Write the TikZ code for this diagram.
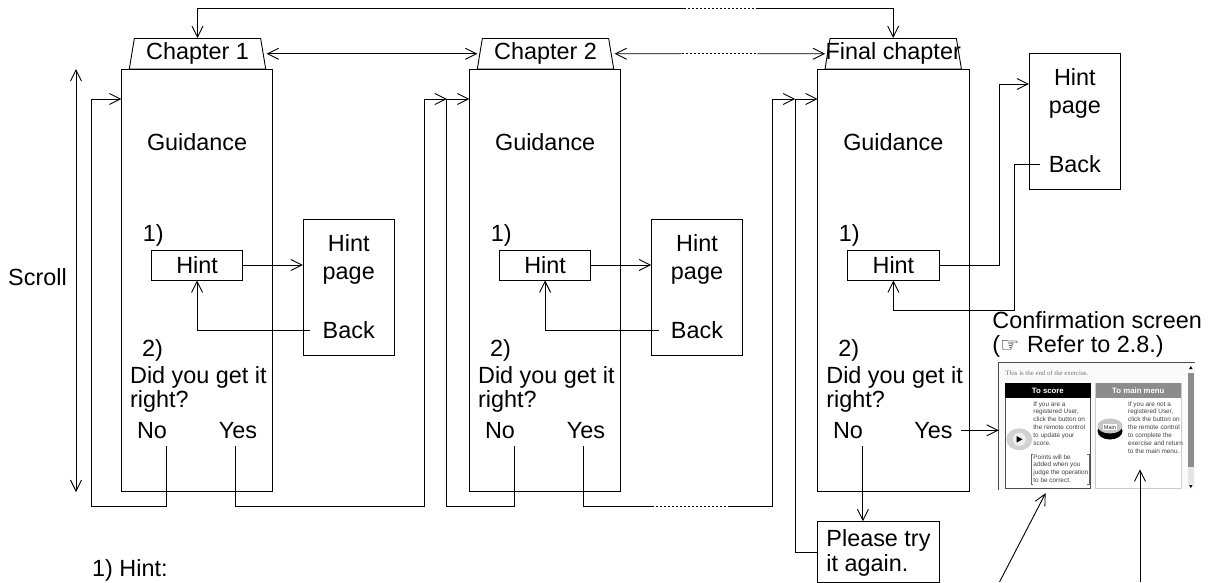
\documentclass[tikz,border=0pt]{standalone}
\usepackage{xcolor}
\usepackage{fontspec}
\setmainfont{Liberation Sans}
\newfontfamily\symfont{DejaVu Sans}
\newfontfamily\serfont{Liberation Serif}
\usepackage{tikz}
\usetikzlibrary{calc}
\usetikzlibrary{arrows.meta}
\usetikzlibrary{shapes.geometric}
\tikzset{>={Straight Barb[length=11pt,width=11pt]}}
\tikzstyle{lbl} = [draw=none, inner sep=0, font=\fontsize{23.4}{23.6}\selectfont]
\tikzstyle{tab} = [trapezium, draw, trapezium stretches body=true, trapezium left angle=77, trapezium right angle=77, minimum width=136.4pt, minimum height=30.5pt, inner sep=0, font=\fontsize{23.4}{23.6}\selectfont]
\tikzstyle{chap} = [rectangle, draw, inner sep=0, minimum width=151.4pt, minimum height=422.5pt]
\tikzstyle{hintbox} = [rectangle, draw, inner sep=0, minimum width=91.4pt, minimum height=30pt, font=\fontsize{23.4}{23.6}\selectfont]
\tikzstyle{hintpage} = [rectangle, draw, inner sep=0, minimum width=90.9pt, minimum height=136pt]
\tikzstyle{dots} = [-, dash pattern=on 2pt off 2pt]
\tikzstyle{small} = [draw=none, inner sep=0, anchor=north west, align=left, text=black!75, font=\fontsize{6.4}{7.85}\selectfont]

\begin{document}
\begin{tikzpicture}[x=1pt, y=-1pt, line width=.9pt]
\useasboundingbox (0,0) rectangle (1217,582);
% chapter columns
\node [tab] (T1) at (197.5, 53.75) {\makebox[0pt]{Chapter 1}};
\node [tab] (T2) at (545.5, 53.75) {\makebox[0pt]{Chapter 2}};
\node [tab] (T3) at (893.2, 53.75) {\makebox[0pt]{\raisebox{-2pt}{Final chapter}}};
\node [chap] (C1) at (197.1, 280.25) {};
\node [chap] (C2) at (545.15, 280.25) {};
\node [chap] (C3) at (893.35, 280.25) {};
\node [lbl] (G1) at (197.1, 142) {Guidance};
\node [lbl] (G2) at (545.15, 142) {Guidance};
\node [lbl] (G3) at (893.35, 142) {Guidance};
\node [lbl, anchor=base west] (A1) at (142.3, 241.7) {1)};
\node [lbl, anchor=base west] (A2) at (490.3, 241.7) {1)};
\node [lbl, anchor=base west] (A3) at (838.5, 241.7) {1)};
\node [hintbox] (H1) at (197.1, 265) {Hint};
\node [hintbox] (H2) at (545.1, 265) {Hint};
\node [hintbox] (H3) at (893.4, 265) {Hint};
\node [lbl, anchor=base west] (B1) at (141.6, 356) {2)};
\node [lbl, anchor=base west] (B2) at (489.6, 356) {2)};
\node [lbl, anchor=base west] (B3) at (837.8, 356) {2)};
\node [lbl, anchor=north west, align=left] (Q1) at (129.7, 366) {Did you get it\\right?};
\node [lbl, anchor=north west, align=left] (Q2) at (477.7, 366) {Did you get it\\right?};
\node [lbl, anchor=north west, align=left] (Q3) at (825.9, 366) {Did you get it\\right?};
\node [lbl] (N1) at (152, 430.3) {No};
\node [lbl] (N2) at (500, 430.3) {No};
\node [lbl] (N3) at (848, 430.3) {No};
\node [lbl] (Y1) at (238, 430.3) {Yes};
\node [lbl] (Y2) at (586, 430.3) {Yes};
\node [lbl, inner xsep=8pt] (Y3) at (933.5, 430.3) {Yes};
% hint pages
\node [hintpage] (P1) at (348.75, 287.85) {};
\node [hintpage] (P2) at (697, 287.85) {};
\node [hintpage] (P3) at (1074.85, 121.5) {};
\node [lbl, align=center, anchor=north] (L1) at (348.75, 234) {Hint\\[4.4pt]page};
\node [lbl, align=center, anchor=north] (L2) at (697, 234) {Hint\\[4.4pt]page};
\node [lbl, align=center, anchor=north] (L3) at (1074.85, 68) {Hint\\[4.4pt]page};
\node [lbl, inner xsep=12pt] (K1) at (348.75, 330.5) {Back};
\node [lbl, inner xsep=12pt] (K2) at (697, 330.5) {Back};
\node [lbl, inner xsep=8pt] (K3) at (1074.85, 164.5) {Back};
% retry box and scroll label
\node [rectangle, draw, inner sep=0, minimum width=121.6pt, minimum height=61pt] (R) at (878.4, 552.2) {};
\node [lbl, anchor=north west, align=left] (RT) at (826, 529) {Please try\\[1pt]it again.};
\node [lbl] (S) at (37.5, 277) {Scroll};
\node [lbl, anchor=base west] (N) at (91.7, 576.5) {1) Hint:};
% confirmation screen
\node [lbl, anchor=north west, align=left] (CS) at (992, 311) {Confirmation screen\\(\smash{\symfont\fontsize{21}{21}\selectfont\char"261E}\hspace{1.5pt} Refer to 2.8.)};
\node [rectangle, fill=black!2, inner sep=0, minimum width=195.5pt, minimum height=126pt] (W) at (1097, 426.3) {};
\draw [black!70] (W.south west) -- (W.north west) -- (W.north east);
\node [draw=none, inner sep=0, anchor=base west, text=black!55, font=\serfont\fontsize{6.8}{8}\selectfont] (W0) at (1005, 375.5) {This is the end of the exercise.};
\node [rectangle, draw=black!70, fill=white, inner sep=0, minimum width=85.7pt, minimum height=105pt] (WA) at (1047.85, 435.8) {};
\node [rectangle, draw=black!20, fill=white, inner sep=0, minimum width=85.3pt, minimum height=105pt] (WB) at (1138.35, 435.8) {};
\node [rectangle, fill=black, text=white, inner sep=0, minimum width=85.7pt, minimum height=15pt, font=\bfseries\fontsize{7.8}{8}\selectfont] (WA0) at (1047.85, 390.8) {To score};
\node [rectangle, fill=black!45, text=white, inner sep=0, minimum width=85.3pt, minimum height=15pt, font=\bfseries\fontsize{7.8}{8}\selectfont] (WB0) at (1138.35, 390.8) {To main menu};
\node [small] (W1) at (1033, 401) {If you are a\\registered User,\\click the button on\\the remote control\\to update your\\score.};
\node [small] (W2) at (1033, 454) {Points will be\\added when you\\judge the operation\\to be correct.};
\node [small] (W3) at (1127.7, 401) {If you are not a\\registered User,\\click the button on\\the remote control\\to complete the\\exercise and return\\to the main menu.};
\draw [black!60, line width=.5pt] (1033, 454) -- (1031, 454) -- (1031, 484) -- (1033, 484);
\draw [black!60, line width=.5pt] (1087, 454) -- (1089, 454) -- (1089, 484) -- (1087, 484);
\node [ellipse, fill=black!18, inner sep=0, minimum width=26pt, minimum height=22pt] (PL) at (1019.3, 439.3) {};
\node [circle, fill=black!6, inner sep=0, minimum size=13pt] (PC) at (PL) {};
\fill [black] (1016.5, 436) -- (1022.5, 439.3) -- (1016.5, 442.6) -- cycle;
\node [ellipse, fill=black, inner sep=0, minimum width=25pt, minimum height=17pt] (MB) at (1110, 431) {};
\node [ellipse, fill=black!22, inner sep=0, minimum width=25pt, minimum height=15pt] (MT) at (1110, 426) {};
\node [rectangle, fill=white, text=black!80, inner sep=.8pt, font=\fontsize{5.6}{6}\selectfont] (ML) at (1110, 427) {Main};
\node [rectangle, fill=black!45, inner sep=0, minimum width=6.5pt, minimum height=94pt] (SB) at (1190.8, 419.5) {};
\node [rectangle, fill=black!10, inner sep=0, minimum width=6.5pt, minimum height=17pt] (SC) at (1190.8, 475) {};
\node [regular polygon, regular polygon sides=3, fill=black, inner sep=0, minimum size=4pt] (SU) at (1190.8, 368) {};
\node [regular polygon, regular polygon sides=3, shape border rotate=180, fill=black, inner sep=0, minimum size=4pt] (SD) at (1190.8, 486) {};
% connector points
\coordinate (E1) at (121.4, 99);
\coordinate (E2) at (469.4, 99);
\coordinate (E3) at (817.6, 99);
\coordinate (M2) at (446.8, 99);
\coordinate (M3) at (795.2, 99);
\coordinate (NO1) at (166.9, 446);
\coordinate (NO2) at (514.8, 446);
\coordinate (NO3) at (862.9, 446);
\coordinate (YO1) at (235.3, 446);
\coordinate (YO2) at (583.2, 446);
\coordinate (LO1) at (91.3, 506.7);
\coordinate (LO2) at (446.8, 506.7);
\coordinate (RO1) at (424.3, 506.7);
\coordinate (RO2) at (772.4, 506.7);
\coordinate (DA) at (652, 506.7);
\coordinate (DB) at (728, 506.7);
\coordinate (TA) at (683.8, 8.3);
\coordinate (TB) at (757.4, 8.3);
\coordinate (MA) at (681.5, 53.75);
\coordinate (MB2) at (757.4, 53.75);
\coordinate (ST) at (76, 69);
\coordinate (SE) at (76, 492);
\coordinate (HT) at (999.5, 84);
\coordinate (HB) at (1014.4, 310.7);
\coordinate (F1) at (999.5, 582);
\coordinate (F2) at (1140, 582);
\coordinate (F3) at (1140, 469.3);
% top and chapter links
\draw [<-] (T1.north) |- (TA);
\draw [dots] (TA) to (TB);
\draw [->] (TB) -| (T3.north);
\draw [<->, shorten <=3pt, shorten >=2pt] (T1.east) to (T2.west);
\draw [<-, shorten <=3pt] (T2.east) to (MA);
\draw [dots] (MA) to (MB2);
\draw [->, shorten >=2pt] (MB2) to (T3.west);
\draw [<->] (ST) to (SE);
% no and yes links
\draw [->] (NO1) |- (LO1) |- (E1);
\draw [->] (YO1) |- (RO1) |- (M2);
\draw (NO2) |- (LO2) to (M2);
\draw [->] (M2) to (E2);
\draw (YO2) |- (DA);
\draw [dots] (DA) to (DB);
\draw [->] (DB) to (RO2) |- (M3);
\draw (R.west) -| (M3);
\draw [->] (M3) to (E3);
\draw [->] (NO3) to (NO3 |- R.north);
\draw [->] (Y3.east) to (Y3.east -| W.west);
% hint links
\draw [->] (H1.east) to (H1.east -| P1.west);
\draw [->] (H2.east) to (H2.east -| P2.west);
\draw [->] (K1.west) -| (H1.south);
\draw [->] (K2.west) -| (H2.south);
\draw (H3.east) -| (HT);
\draw [->] (HT) to (HT -| P3.west);
\draw [->] (K3.west) -| (HB) -| (H3.south);
% arrows into the screen
\draw [->, shorten >=5pt] (F1) to (WA.south);
\draw [->] (F2) to (F3);
\end{tikzpicture}
\end{document}
